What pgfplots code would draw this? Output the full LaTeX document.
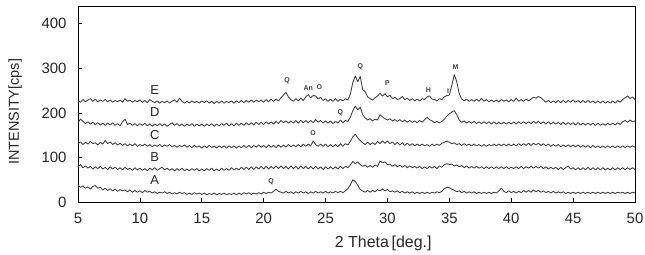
\documentclass[border=0pt]{standalone}
\usepackage{pgfplots}
\pgfplotsset{compat=1.18}
\usepackage{pgfplotstable}
\usepackage{fontspec}
\setmainfont{Liberation Sans}
\definecolor{curve}{HTML}{3C3C3C}
\pgfplotstableread{
x A B C D E
5.0 38 79 131 178 227
5.2 33 84 135 186 224
5.4 36 77 129 181 230
5.6 31 81 134 176 225
5.8 34 76 130 180 229
6.0 29 80 136 175 232
6.2 35 74 131 179 226
6.4 37 79 133 174 231
6.6 31 75 128 178 225
6.8 33 80 134 173 229
7.0 27 74 130 177 226
7.2 31 78 138 172 230
7.4 26 73 131 177 225
7.6 30 79 135 173 229
7.8 25 74 129 178 224
8.0 29 78 133 172 228
8.2 24 73 128 176 225
8.4 28 77 132 171 229
8.6 25 72 127 180 224
8.8 27 78 131 186 232
9.0 23 73 126 174 226
9.2 27 76 130 177 229
9.4 22 71 126 172 224
9.6 26 77 131 176 228
9.8 22 72 125 171 225
10.0 25 76 129 176 229
10.2 21 71 126 172 224
10.4 26 75 130 177 228
10.6 22 70 125 171 223
10.8 24 76 129 175 230
11.0 20 72 124 170 226
11.2 23 77 128 175 223
11.4 19 71 125 171 227
11.6 22 75 129 176 222
11.8 20 78 124 171 226
12.0 23 72 128 175 223
12.2 19 76 125 170 227
12.4 22 71 129 174 222
12.6 18 75 124 178 226
12.8 21 70 127 172 229
13.0 18 75 123 176 224
13.2 22 71 127 171 233
13.4 19 76 124 175 226
13.6 21 70 128 170 222
13.8 17 74 123 175 226
14.0 20 70 127 171 222
14.2 17 75 122 176 227
14.4 21 71 127 170 223
14.6 18 75 123 175 226
14.8 20 70 126 171 222
15.0 17 74 121 175 227
15.2 20 70 126 170 223
15.4 16 75 122 175 227
15.6 19 71 127 171 222
15.8 17 76 122 176 226
16.0 20 70 126 170 221
16.2 16 74 121 175 226
16.4 19 70 126 171 222
16.6 17 76 122 176 227
16.8 20 71 126 172 222
17.0 16 75 121 177 226
17.2 19 71 126 171 223
17.4 17 77 122 176 227
17.6 20 72 126 171 222
17.8 16 76 121 177 227
18.0 20 72 126 172 223
18.2 17 78 122 177 228
18.4 21 73 127 172 223
18.6 18 78 122 178 228
18.8 21 73 127 173 224
19.0 17 79 122 178 229
19.2 20 73 127 173 224
19.4 18 79 123 179 229
19.6 21 74 128 174 225
19.8 18 80 123 179 229
20.0 22 74 127 174 224
20.2 19 80 122 180 230
20.4 22 74 128 175 225
20.6 20 80 123 180 231
20.8 24 75 127 175 226
21.0 29 81 122 181 231
21.2 24 75 128 176 227
21.4 22 81 123 183 234
21.6 20 75 128 178 240
21.8 24 80 123 182 246
22.0 20 74 129 177 236
22.2 23 81 124 182 230
22.4 19 75 128 177 226
22.6 23 80 124 183 232
22.8 20 74 129 177 227
23.0 24 81 124 183 233
23.2 20 75 130 178 228
23.4 23 80 125 183 236
23.6 19 74 130 178 241
23.8 23 80 126 183 234
24.0 20 74 137 178 239
24.2 24 80 129 185 238
24.4 20 74 125 179 231
24.6 23 79 130 183 235
24.8 20 73 125 177 228
25.0 24 79 130 182 232
25.2 20 74 124 177 226
25.4 23 79 129 182 231
25.6 20 74 124 176 226
25.8 24 79 129 181 232
26.0 21 74 124 177 226
26.2 24 80 131 184 231
26.4 21 75 125 178 227
26.6 25 80 131 183 232
26.8 30 77 128 181 229
27.0 38 83 136 190 242
27.2 50 91 146 205 268
27.4 46 86 152 215 283
27.6 38 90 144 207 270
27.8 28 84 138 213 282
28.0 25 80 133 196 252
28.2 22 83 129 189 248
28.4 26 78 134 184 236
28.6 22 82 129 187 232
28.8 26 78 133 182 229
29.0 23 83 129 186 234
29.2 28 80 136 184 238
29.4 25 92 131 196 244
29.6 29 88 137 191 238
29.8 25 90 132 187 243
30.0 28 84 137 184 236
30.2 23 85 131 187 240
30.4 25 80 135 182 232
30.6 22 84 129 185 235
30.8 25 79 134 181 230
31.0 21 83 128 185 232
31.2 24 78 133 180 237
31.4 20 82 127 184 230
31.6 23 77 132 179 233
31.8 20 81 127 183 228
32.0 23 77 131 179 232
32.2 19 80 126 182 227
32.4 22 76 130 178 231
32.6 19 80 126 183 227
32.8 22 75 130 179 232
33.0 19 79 126 185 230
33.2 22 75 129 190 236
33.4 19 80 125 185 238
33.6 22 76 130 182 231
33.8 20 80 126 178 230
34.0 23 75 130 181 227
34.2 21 81 127 178 232
34.4 24 78 132 181 230
34.6 30 84 134 186 236
34.8 33 86 137 193 239
35.0 32 84 134 198 240
35.2 29 85 131 202 262
35.4 26 81 133 205 286
35.6 23 83 129 196 270
35.8 25 79 131 184 243
36.0 21 82 127 179 231
36.2 24 77 131 182 227
36.4 20 81 127 177 231
36.6 23 76 130 181 226
36.8 20 80 126 177 230
37.0 23 76 130 181 226
37.2 19 80 126 176 231
37.4 22 76 129 180 226
37.6 19 79 125 176 233
37.8 22 75 129 180 226
38.0 19 79 125 176 230
38.2 22 75 129 180 225
38.4 19 79 126 175 229
38.6 22 75 130 180 225
38.8 20 79 126 175 229
39.0 25 75 130 179 225
39.2 31 79 126 175 230
39.4 24 75 130 179 226
39.6 21 79 126 175 229
39.8 25 75 130 179 225
40.0 21 78 126 175 230
40.2 24 75 130 180 226
40.4 20 79 126 175 233
40.6 24 75 131 180 226
40.8 21 80 127 176 230
41.0 26 75 131 180 226
41.2 22 79 127 176 231
41.4 26 76 132 180 227
41.6 22 80 127 176 231
41.8 27 76 132 181 235
42.0 23 80 128 177 233
42.2 26 76 132 181 237
42.4 22 80 127 176 234
42.6 25 75 131 180 229
42.8 21 79 126 175 224
43.0 24 74 130 180 228
43.2 20 78 125 175 223
43.4 24 74 129 179 227
43.6 20 78 125 175 223
43.8 23 73 129 179 228
44.0 20 78 124 174 223
44.2 23 73 128 179 228
44.4 19 77 124 174 223
44.6 22 81 128 178 228
44.8 19 74 124 174 224
45.0 22 77 128 178 229
45.2 19 72 124 173 224
45.4 22 77 128 178 228
45.6 19 72 123 173 223
45.8 22 77 127 177 228
46.0 19 72 123 173 223
46.2 22 78 127 177 228
46.4 19 72 122 173 223
46.6 22 77 127 177 227
46.8 19 72 122 172 222
47.0 22 77 126 177 227
47.2 19 72 122 172 222
47.4 22 77 126 176 227
47.6 19 72 122 172 222
47.8 22 76 126 177 226
48.0 19 72 122 173 222
48.2 22 77 126 177 227
48.4 19 72 122 173 222
48.6 22 77 126 178 228
48.8 20 73 122 174 224
49.0 22 77 126 180 230
49.2 19 72 122 183 234
49.4 22 77 126 179 238
49.6 19 73 123 184 232
49.8 22 77 126 180 236
50.0 20 73 123 182 230
}\xrd
\begin{document}
\begin{tikzpicture}
\path[use as bounding box] (-78bp,-53bp) rectangle (567bp,202bp);
\begin{axis}[
  scale only axis, width=557bp, height=196bp,
  xmin=5, xmax=50, ymin=0, ymax=440,
  xtick={5,10,...,50}, ytick={0,100,...,400},
  tick pos=left, tick align=inside, major tick length=4bp,
  axis line style={black, line width=0.9bp},
  tick style={black, line width=0.7bp},
  ticklabel style={font=\fontsize{15}{17}\selectfont, text=black!85},
  /pgf/number format/assume math mode=true,
  xticklabel style={yshift=-8bp},
  yticklabel style={xshift=-8bp},
  xlabel={2 Theta\,[deg.]},
  ylabel={INTENSITY[cps]},
  label style={text=black!85},
  xlabel style={font=\fontsize{16}{18}\selectfont, at={(axis description cs:0.548,0)}, anchor=center, yshift=-41bp},
  ylabel style={font=\fontsize{14.5}{16}\selectfont, at={(axis description cs:-0.113,0.46)}, anchor=center, rotate=0},
  clip=false,
]
\foreach \s in {A,B,C,D,E}{
  \addplot[curve, line width=0.85bp, line join=round] table[x=x, y=\s] {\xrd};
}
\begin{scope}[font=\fontsize{13}{14}\selectfont, text=black!85]
\node at (axis cs:11.2,252) {E};
\node at (axis cs:11.2,201) {D};
\node at (axis cs:11.2,151) {C};
\node at (axis cs:11.2,101) {B};
\node at (axis cs:11.2,50) {A};
\end{scope}
\begin{scope}[font=\fontsize{7}{8}\selectfont\bfseries, text=black!75]
\node at (axis cs:21.9,273) {Q};
\node at (axis cs:23.6,256) {An};
\node at (axis cs:24.5,257) {O};
\node at (axis cs:27.8,303) {Q};
\node at (axis cs:30.0,267) {P};
\node at (axis cs:33.3,251) {H};
\node at (axis cs:34.9,249) {I};
\node at (axis cs:35.5,302) {M};
\node at (axis cs:26.2,201) {Q};
\node at (axis cs:24.0,154) {O};
\node at (axis cs:20.6,45) {Q};
\end{scope}
\end{axis}
\end{tikzpicture}
\end{document}
